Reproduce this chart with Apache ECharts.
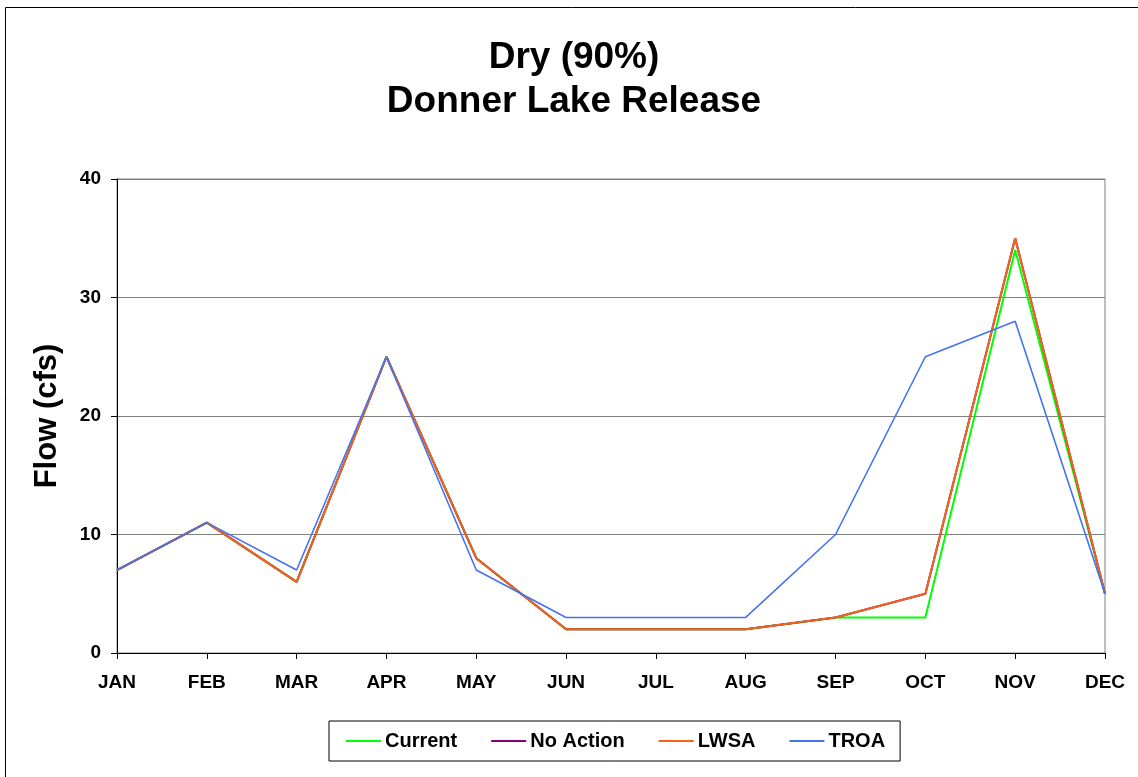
<!DOCTYPE html>
<html>
<head>
<meta charset="utf-8">
<script src="https://cdn.jsdelivr.net/npm/echarts@6/dist/echarts.min.js"></script>
<style>
html,body{margin:0;padding:0;background:#fff;}
#chart{width:1138px;height:777px;}
</style>
</head>
<body>
<div id="chart"></div>
<script>
const months = ['JAN','FEB','MAR','APR','MAY','JUN','JUL','AUG','SEP','OCT','NOV','DEC'];
const yTicks = [0, 10, 20, 30, 40];
const current  = [7, 11, 6, 25, 8, 2, 2, 2, 3, 3, 34, 5];
const noAction = [7, 11, 6, 25, 8, 2, 2, 2, 3, 5, 35, 5];
const lwsa     = [7, 11, 6, 25, 8, 2, 2, 2, 3, 5, 35, 5];
const troa     = [7, 11, 7, 25, 7, 3, 3, 3, 10, 25, 28, 5];

const FONT = 'Liberation Sans, Arial, sans-serif';
const chart = echarts.init(document.getElementById('chart'));
function ser(name, data, color, w) {
  return { name, type: 'line', data, symbol: 'none', showSymbol: false, color,
    lineStyle: { color, width: w }, animation: false };
}
const legendNames = ['Current', 'No Action', 'LWSA', 'TROA'];
chart.setOption({
  animation: false,
  backgroundColor: '#fff',
  title: {
    text: 'Dry (90%)\nDonner Lake Release',
    left: 569, top: 31, textAlign: 'center',
    textStyle: { fontFamily: FONT, fontWeight: 'bold', fontSize: 37, lineHeight: 44, color: '#000' }
  },
  graphic: [{
    type: 'rect', shape: { x: 5.5, y: 7.5, width: 1140, height: 780 },
    style: { fill: 'none', stroke: '#000', lineWidth: 1 }, silent: true, z: -1
  }],
  grid: { left: 117, right: 33, top: 179, bottom: 124, show: true,
    borderColor: '#808080', borderWidth: 1, backgroundColor: 'transparent' },
  legend: {
    data: legendNames.map(n => ({ name: n, icon: 'rect' })),
    left: 329, top: 721, orient: 'horizontal',
    borderColor: '#000', borderWidth: 1, padding: [10, 15, 10, 17],
    itemWidth: 35, itemHeight: 2, itemGap: 34,
    textStyle: { fontFamily: FONT, fontWeight: 'bold', fontSize: 20, color: '#000', padding: [0, 0, 0, -1] }
  },
  xAxis: {
    type: 'category', data: months, boundaryGap: false,
    axisLine: { lineStyle: { color: '#000', width: 1 } },
    axisTick: { show: true, length: 6, lineStyle: { color: '#000' } },
    axisLabel: { fontFamily: FONT, fontWeight: 'bold', fontSize: 19, color: '#000', margin: 20 },
    splitLine: { show: false }
  },
  yAxis: {
    type: 'value', min: 0, max: 40, interval: 10,
    name: 'Flow (cfs)', nameLocation: 'middle', nameGap: 54, nameRotate: 90,
    nameTextStyle: { fontFamily: FONT, fontWeight: 'bold', fontSize: 31, color: '#000' },
    axisLine: { show: true, lineStyle: { color: '#000', width: 1 } },
    axisTick: { show: true, length: 6, lineStyle: { color: '#000' } },
    axisLabel: { fontFamily: FONT, fontWeight: 'bold', fontSize: 19, color: '#000', margin: 16,
      formatter: v => yTicks.includes(v) ? String(v) : '' },
    splitLine: { show: true, lineStyle: { color: '#808080', width: 1 } }
  },
  series: [
    ser('Current', current, '#00ff00', 2),
    ser('No Action', noAction, '#800080', 2),
    ser('LWSA', lwsa, '#f26518', 2),
    ser('TROA', troa, '#4472f4', 1.6)
  ]
});
</script>
</body>
</html>
